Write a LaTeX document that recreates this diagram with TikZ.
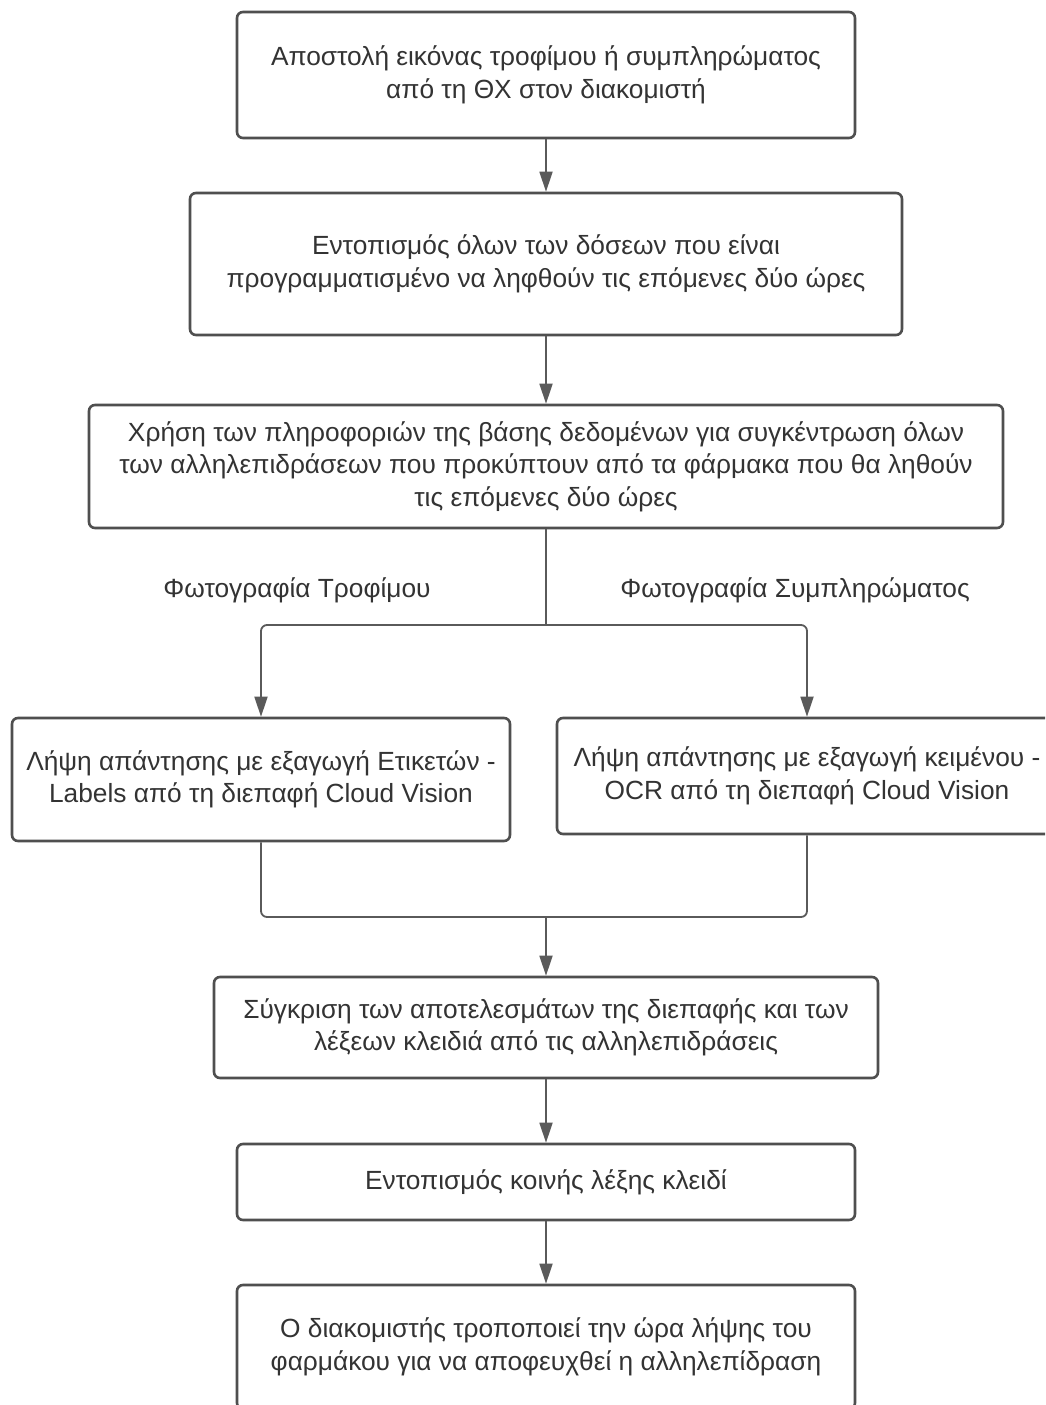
\documentclass[tikz,border=0pt]{standalone}
\usepackage{fontspec}
\setmainfont{Liberation Sans}
\usetikzlibrary{arrows.meta}
\definecolor{boxline}{HTML}{4F4F4F}
\definecolor{txt}{HTML}{333333}
\definecolor{conn}{HTML}{5A5A5A}
\begin{document}
\begin{tikzpicture}[x=1pt,y=-1pt,
  stepbox/.style={draw=boxline, line width=2.6pt, rounded corners=6pt, fill=white,
    align=center, text=txt, inner sep=0pt,
    font=\fontsize{26.3}{32.5}\selectfont},
  lbl/.style={text=txt, font=\fontsize{26.3}{32.5}\selectfont, inner sep=0pt},
  flow/.style={draw=conn, line width=1.8pt, -{Triangle[length=20pt,width=13pt]}},
  wire/.style={draw=conn, line width=1.8pt, rounded corners=6pt}]
\useasboundingbox (0,0) rectangle (1045,1405);
\clip (0,0) rectangle (1045,1405);
\fill[white] (0,0) rectangle (1045,1405);

\node[stepbox, minimum width=618pt, minimum height=126pt] (b1) at (546,75)
  {Αποστολή εικόνας τροφίμου ή συμπληρώματος\\από τη ΘΧ στον διακομιστή};
\node[stepbox, minimum width=712pt, minimum height=142pt] (b2) at (546,264)
  {Εντοπισμός όλων των δόσεων που είναι\\προγραμματισμένο να ληφθούν τις επόμενες δύο ώρες};
\node[stepbox, minimum width=914pt, minimum height=123pt] (b3) at (546,466.5)
  {Χρήση των πληροφοριών της βάσης δεδομένων για συγκέντρωση όλων\\των αλληλεπιδράσεων που προκύπτουν από τα φάρμακα που θα ληθούν\\τις επόμενες δύο ώρες};
\node[stepbox, minimum width=498pt, minimum height=123pt] (bl) at (261,779.5)
  {Λήψη απάντησης με εξαγωγή Ετικετών -\\Labels από τη διεπαφή Cloud Vision};
\node[stepbox, minimum width=500pt, minimum height=116pt] (br) at (807,776)
  {Λήψη απάντησης με εξαγωγή κειμένου -\\OCR από τη διεπαφή Cloud Vision};
\node[stepbox, minimum width=664pt, minimum height=101pt] (b5) at (546,1027.5)
  {Σύγκριση των αποτελεσμάτων της διεπαφής και των\\λέξεων κλειδιά από τις αλληλεπιδράσεις};
\node[stepbox, minimum width=618pt, minimum height=76pt] (b6) at (546,1182)
  {Εντοπισμός κοινής λέξης κλειδί};
\node[stepbox, minimum width=618pt, minimum height=124pt] (b7) at (546,1347)
  {Ο διακομιστής τροποποιεί την ώρα λήψης του\\φαρμάκου για να αποφευχθεί η αλληλεπίδραση};

\node[lbl] (lf) at (297,590) {Φωτογραφία Τροφίμου};
\node[lbl] (ls) at (795,590) {Φωτογραφία Συμπληρώματος};

\coordinate (fork) at (546,625);
\coordinate (join) at (546,917);

\draw[flow] (b1) -- (b2);
\draw[flow] (b2) -- (b3);
\draw[wire] (b3.south) -- (fork);
\draw[wire, -{Triangle[length=20pt,width=13pt]}] (fork) -| (bl.north);
\draw[wire, -{Triangle[length=20pt,width=13pt]}] (fork) -| (br.north);
\draw[wire] (bl.south) |- (join);
\draw[wire] (br.south) |- (join);
\draw[flow] (join) -- (b5.north);
\draw[flow] (b5) -- (b6);
\draw[flow] (b6) -- (b7);
\end{tikzpicture}
\end{document}
